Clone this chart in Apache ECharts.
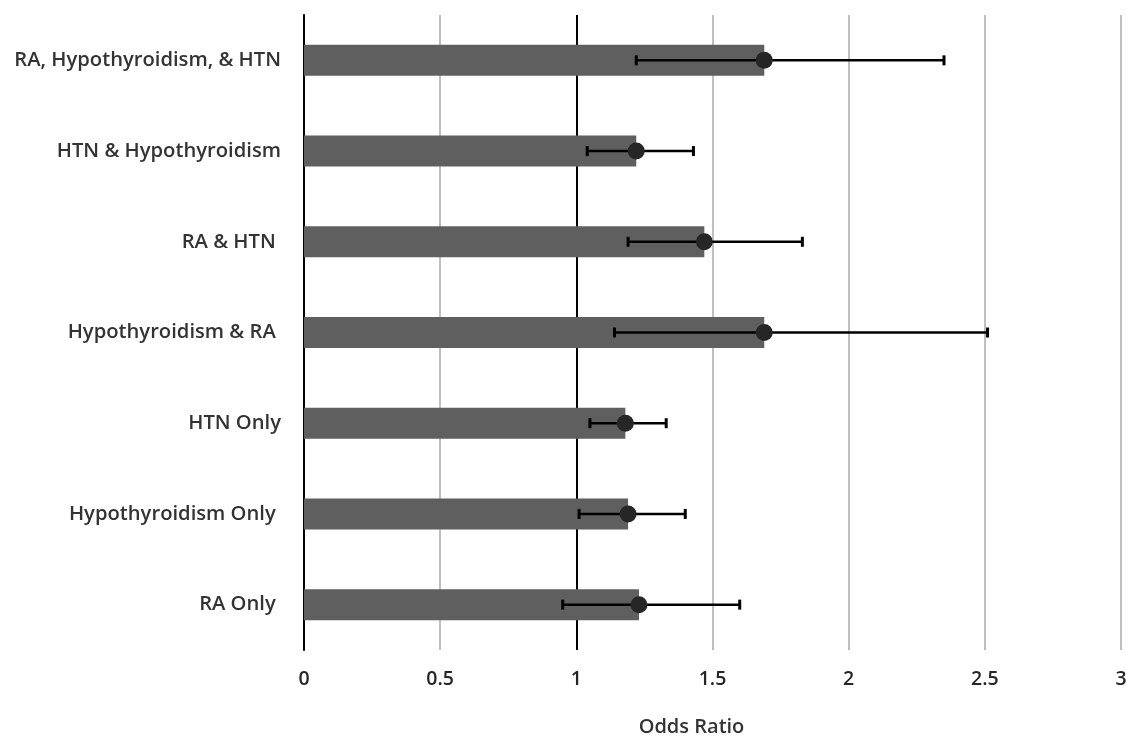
<!DOCTYPE html>
<html>
<head>
<meta charset="utf-8">
<script src="https://cdn.jsdelivr.net/npm/echarts@6/dist/echarts.min.js"></script>
<style>html,body{margin:0;padding:0;background:#fff}#c{width:1126px;height:736px}</style>
</head>
<body>
<div id="c"></div>
<script>
var categories = ['RA, Hypothyroidism, & HTN', 'HTN & Hypothyroidism', 'RA & HTN ', 'Hypothyroidism & RA ', 'HTN Only', 'Hypothyroidism Only ', 'RA Only '];
var oddsRatio = [1.69, 1.22, 1.47, 1.69, 1.18, 1.19, 1.23];
var ciLow = [1.22, 1.04, 1.19, 1.14, 1.05, 1.01, 0.95];
var ciHigh = [2.35, 1.43, 1.83, 2.51, 1.33, 1.40, 1.60];
var xTicks = [0, 0.5, 1, 1.5, 2, 2.5, 3];

var chart = echarts.init(document.getElementById('c'), null, {renderer: 'canvas'});
var lineColors = xTicks.map(function (t) { return t === 0 || t === 1 ? '#000000' : '#bfbfbf'; });
var errData = categories.map(function (c, i) { return [i, ciLow[i], ciHigh[i]]; });
var dotData = categories.map(function (c, i) { return [oddsRatio[i], i]; });

chart.setOption({
  animation: false,
  backgroundColor: '#ffffff',
  grid: {left: 304, right: 5, top: 15, bottom: 86, containLabel: false, outerBoundsMode: 'none'},
  xAxis: {
    type: 'value', min: 0, max: 3, interval: 0.5,
    name: 'Odds Ratio', nameLocation: 'middle', nameGap: 67,
    nameTextStyle: {fontFamily: 'Open Sans', fontSize: 20, fontWeight: 600, color: '#333333', padding: [0, 42, 0, 0]},
    axisLine: {show: false},
    axisTick: {show: false},
    axisLabel: {fontFamily: 'Open Sans', fontSize: 19.5, fontWeight: 600, color: '#262626', margin: 19,
      formatter: function (v) { return String(v); }},
    splitLine: {show: true, lineStyle: {color: lineColors, width: 2}}
  },
  yAxis: {
    type: 'category', data: categories, inverse: true,
    axisLine: {show: true, lineStyle: {color: '#000000', width: 2}},
    axisTick: {show: false},
    axisLabel: {fontFamily: 'Open Sans', fontSize: 20.2, fontWeight: 600, color: '#333333', margin: 23},
    splitLine: {show: false}
  },
  series: [
    {
      type: 'bar', data: oddsRatio, barWidth: 31,
      itemStyle: {color: '#5f5f5f'}, z: 2
    },
    {
      type: 'custom', data: errData, z: 3,
      renderItem: function (params, api) {
        var i = api.value(0);
        var p1 = api.coord([api.value(1), i]);
        var p2 = api.coord([api.value(2), i]);
        var h = 5;
        var st = {stroke: '#000000', lineWidth: 2.5};
        return {
          type: 'group',
          children: [
            {type: 'line', shape: {x1: p1[0], y1: p1[1], x2: p2[0], y2: p2[1]}, style: st},
            {type: 'line', shape: {x1: p1[0], y1: p1[1] - h, x2: p1[0], y2: p1[1] + h}, style: {stroke: '#000', lineWidth: 3}},
            {type: 'line', shape: {x1: p2[0], y1: p2[1] - h, x2: p2[0], y2: p2[1] + h}, style: {stroke: '#000', lineWidth: 3}}
          ]
        };
      }
    },
    {
      type: 'scatter', data: dotData, symbol: 'circle', symbolSize: 17,
      itemStyle: {color: '#262626', opacity: 1}, z: 4
    }
  ]
});
</script>
</body>
</html>
